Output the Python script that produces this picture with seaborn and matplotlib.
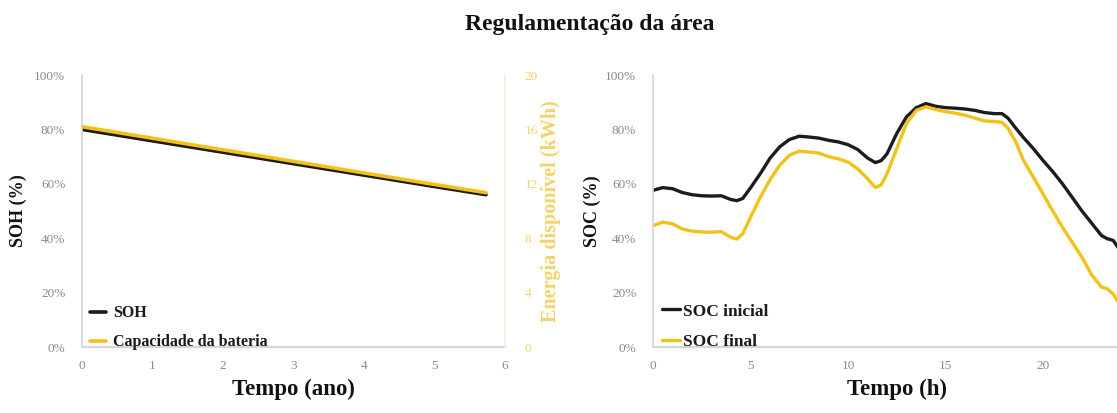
import matplotlib
matplotlib.use("Agg")
import matplotlib.pyplot as plt
import matplotlib.ticker as mticker
import seaborn as sns
import pandas as pd

sns.set_theme(style="white")
plt.rcParams["font.family"] = ["Liberation Serif", "DejaVu Serif"]

# --- Battery ageing (left panel) ---
years = [0, 1, 2, 3, 4, 5, 5.73]
soh = [0.80, 0.758, 0.716, 0.674, 0.632, 0.590, 0.560]          # fraction
capacity_kwh = [16.2, 15.35, 14.5, 13.65, 12.8, 11.95, 11.35]   # kWh

# --- Daily state of charge (right panel) ---
hours = [0, 0.5, 1, 1.5, 2, 2.5, 3, 3.5, 4, 4.3, 4.6, 5, 5.5, 6, 6.5, 7, 7.5,
         8, 8.5, 9, 9.5, 10, 10.5, 11, 11.4, 11.7, 12, 12.5, 13, 13.5, 14,
         14.5, 15, 15.5, 16, 16.5, 17, 17.5, 17.9, 18.2, 18.6, 19, 19.5, 20,
         20.5, 21, 21.5, 22, 22.5, 23, 23.3, 23.6, 24]
soc_inicial = [57.6, 58.6, 58.2, 56.8, 56.0, 55.6, 55.5, 55.6, 54.2, 53.8, 54.6,
               58.5, 63.7, 69.4, 73.6, 76.3, 77.5, 77.2, 76.8, 76.0, 75.4, 74.4,
               72.6, 69.5, 67.8, 68.5, 71.0, 78.5, 84.6, 88.0, 89.5, 88.5, 88.0,
               87.8, 87.5, 87.0, 86.2, 85.8, 85.8, 84.2, 80.5, 77.0, 73.0, 68.6,
               64.5, 60.0, 55.0, 50.0, 45.5, 41.0, 39.8, 39.2, 35.0]
soc_final = [44.6, 45.9, 45.3, 43.4, 42.6, 42.3, 42.2, 42.4, 40.3, 39.7, 41.6,
             47.7, 55.0, 61.5, 66.8, 70.5, 72.0, 71.7, 71.3, 70.0, 69.2, 68.0,
             65.5, 61.9, 58.6, 59.6, 63.7, 72.9, 82.2, 87.0, 88.3, 87.3, 86.5,
             86.0, 85.2, 84.2, 83.1, 82.9, 82.6, 80.5, 75.5, 68.6, 62.5, 56.3,
             50.0, 44.0, 38.5, 33.0, 26.5, 22.0, 21.4, 19.5, 15.0]

BLACK = "#1c1c1c"
GOLD = "#f2c21a"
TICK_GREY = "#8a8a8a"
SPINE_GREY = "#d6d6d6"
LABEL_GOLD = "#f3d46a"

fig = plt.figure(figsize=(11.17, 4.13), dpi=100)

ax1 = fig.add_axes([0.0734, 0.1598, 0.3787, 0.6586])
ax2 = fig.add_axes([0.5846, 0.1598, 0.4364, 0.6586])

df_age = pd.DataFrame({"ano": years, "SOH": soh, "cap": capacity_kwh})
df_day = pd.DataFrame({"h": hours, "ini": [v / 100 for v in soc_inicial],
                       "fin": [v / 100 for v in soc_final]})

# Left panel: SOH on primary axis, usable energy on secondary axis
sns.lineplot(data=df_age, x="ano", y="SOH", ax=ax1, color=BLACK, lw=2.6,
             label="SOH", legend=False)
ax1b = ax1.twinx()
sns.lineplot(data=df_age, x="ano", y="cap", ax=ax1b, color=GOLD, lw=2.6,
             label="Capacidade da bateria", legend=False)
sns.lineplot(data=df_age, x="ano", y="SOH", ax=ax1, color=BLACK, lw=1.6,
             legend=False, alpha=0.9)

ax1.set_xlim(0, 6)
ax1.set_ylim(0, 1)
ax1b.set_ylim(0, 20)
ax1.set_xticks(range(0, 7))
ax1.set_yticks([0, 0.2, 0.4, 0.6, 0.8, 1.0])
ax1.yaxis.set_major_formatter(mticker.PercentFormatter(1.0, decimals=0))
ax1b.set_yticks([0, 4, 8, 12, 16, 20])

# Right panel: SOC through the day
sns.lineplot(data=df_day, x="h", y="ini", ax=ax2, color=BLACK, lw=2.4,
             label="SOC inicial", legend=False)
sns.lineplot(data=df_day, x="h", y="fin", ax=ax2, color=GOLD, lw=2.4,
             label="SOC final", legend=False)
ax2.set_xlim(0, 25)
ax2.set_ylim(0, 1)
ax2.set_xticks([0, 5, 10, 15, 20])
ax2.set_yticks([0, 0.2, 0.4, 0.6, 0.8, 1.0])
ax2.yaxis.set_major_formatter(mticker.PercentFormatter(1.0, decimals=0))

for ax in (ax1, ax2, ax1b):
    for side in ("top", "right", "left", "bottom"):
        ax.spines[side].set_visible(False)
    ax.tick_params(length=0, labelsize=9.5, colors=TICK_GREY, pad=9)
    ax.grid(False)
    ax.set_facecolor("none")

for ax in (ax1, ax2):
    ax.spines["left"].set_visible(True)
    ax.spines["bottom"].set_visible(True)
    ax.spines["left"].set_color(SPINE_GREY)
    ax.spines["bottom"].set_color(SPINE_GREY)
    ax.spines["left"].set_linewidth(1.2)
    ax.spines["bottom"].set_linewidth(1.6)
    ax.tick_params(axis="y", pad=12)

ax1b.spines["right"].set_visible(True)
ax1b.spines["right"].set_color("#f4efdc")
ax1b.tick_params(axis="y", colors=LABEL_GOLD, pad=14)

ax1.set_xlabel("Tempo (ano)", fontsize=16.5, fontweight="bold", color="#111111",
               labelpad=5)
ax1.set_ylabel("SOH (%)", fontsize=13, fontweight="bold", color="#111111",
               labelpad=5)
ax1b.set_ylabel("Energia disponível (kWh)", fontsize=14.5, fontweight="bold",
                color=LABEL_GOLD, rotation=90, labelpad=2)
ax2.set_xlabel("Tempo (h)", fontsize=16.5, fontweight="bold", color="#111111",
               labelpad=5)
ax2.set_ylabel("SOC (%)", fontsize=13, fontweight="bold", color="#111111",
               labelpad=3)

h1, l1 = ax1.get_legend_handles_labels()
h2, l2 = ax1b.get_legend_handles_labels()
leg = ax1b.legend(h1[:1] + h2, l1[:1] + l2, loc="lower left", frameon=False,
                  handlelength=1.0, handletextpad=0.4, borderaxespad=0.0,
                  labelspacing=0.8, bbox_to_anchor=(0.005, -0.035),
                  prop={"family": "Liberation Serif", "weight": "bold",
                        "size": 11.5})
for t in leg.get_texts():
    t.set_color("#1a1a1a")

leg2 = ax2.legend(loc="lower left", frameon=False, handlelength=1.0,
                  handletextpad=0.2, borderaxespad=0.0, labelspacing=0.8,
                  bbox_to_anchor=(0.005, -0.035),
                  prop={"family": "Liberation Serif", "weight": "bold",
                        "size": 12.5})
for t in leg2.get_texts():
    t.set_color("#1a1a1a")

fig.text(0.528, 0.94, "Regulamentação da área", ha="center", va="center",
         fontsize=17, fontweight="bold", color="#111111")

fig.savefig("out.png", dpi=100)
